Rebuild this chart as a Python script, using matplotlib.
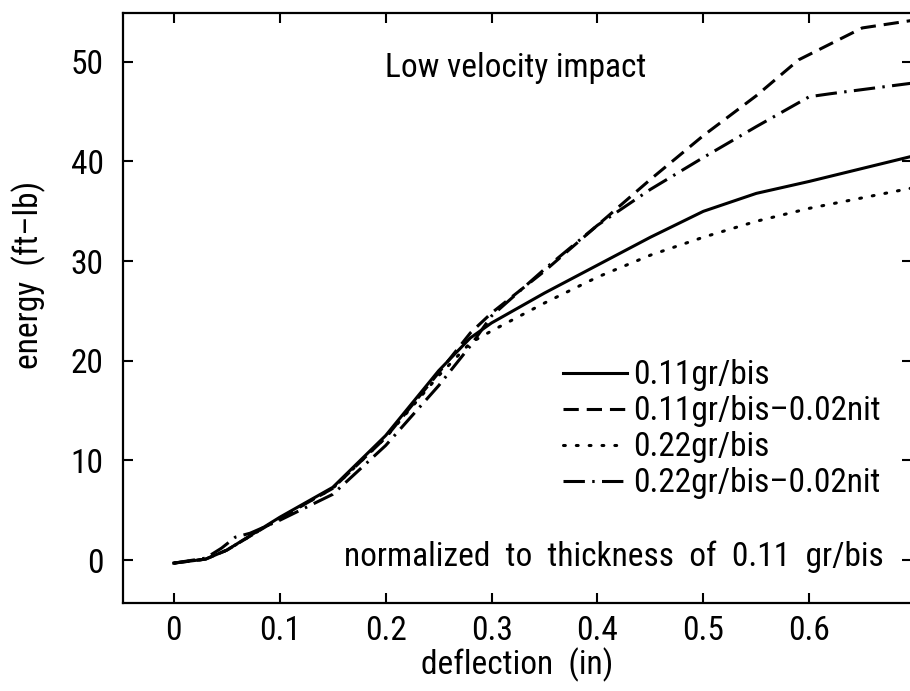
import numpy as np
import matplotlib.pyplot as plt

# data (deflection in, energy ft-lb)
x_solid = [0, 0.03, 0.05, 0.1, 0.15, 0.2, 0.25, 0.28, 0.3, 0.35, 0.4, 0.45, 0.5, 0.55, 0.6, 0.7]
y_solid = [-0.3, 0.1, 1.0, 4.3, 7.3, 12.5, 19.0, 22.3, 23.8, 26.8, 29.6, 32.4, 35.0, 36.8, 38.0, 40.6]

x_dash = [0, 0.03, 0.05, 0.1, 0.15, 0.2, 0.25, 0.28, 0.3, 0.35, 0.4, 0.45, 0.5, 0.55, 0.59, 0.65, 0.7]
y_dash = [-0.3, 0.1, 1.0, 4.2, 7.2, 12.3, 18.8, 22.8, 24.8, 29.0, 33.6, 38.2, 42.6, 46.6, 50.2, 53.4, 54.2]

x_dot = [0, 0.03, 0.05, 0.1, 0.15, 0.2, 0.25, 0.28, 0.3, 0.35, 0.4, 0.45, 0.5, 0.55, 0.6, 0.7]
y_dot = [-0.3, 0.1, 1.0, 4.2, 7.2, 12.3, 18.5, 21.8, 23.0, 25.8, 28.4, 30.6, 32.4, 34.0, 35.3, 37.4]

x_dd = [0, 0.03, 0.045, 0.058, 0.072, 0.085, 0.1, 0.15, 0.2, 0.25, 0.28, 0.3, 0.35, 0.4, 0.45, 0.5, 0.55, 0.6, 0.62, 0.7]
y_dd = [-0.3, 0.2, 1.2, 2.3, 2.7, 3.3, 4.0, 6.6, 11.5, 17.5, 21.5, 24.5, 29.2, 33.6, 37.2, 40.4, 43.5, 46.5, 46.8, 47.9]

labels = ['0.11gr/bis', '0.11gr/bis\u20130.02nit', '0.22gr/bis', '0.22gr/bis\u20130.02nit']
xticks = [0, 0.1, 0.2, 0.3, 0.4, 0.5, 0.6]
xticklabels = ['0', '0.1', '0.2', '0.3', '0.4', '0.5', '0.6']
yticks = [0, 10, 20, 30, 40, 50]

plt.rcParams['font.family'] = ['Roboto Condensed', 'DejaVu Sans']

fig = plt.figure(figsize=(9.10, 6.91), dpi=100)
ax = fig.add_axes([0.1352, 0.1274, 0.8670, 0.8538])

lw = 2.2
ax.plot(x_solid, y_solid, color='black', lw=lw, label=labels[0])
ax.plot(x_dash, y_dash, color='black', lw=lw, dashes=(5, 2.6), label=labels[1])
ax.plot(x_dot, y_dot, color='black', lw=lw, dashes=(0.6, 3.6), dash_capstyle='round', label=labels[2])
ax.plot(x_dd, y_dd, color='black', lw=lw, dashes=(7, 2.4, 0.8, 2.4), label=labels[3])

ax.set_xlim(-0.048, 0.697)
ax.set_ylim(-4.3, 54.9)
ax.set_xticks(xticks)
ax.set_xticklabels(xticklabels)
ax.set_yticks(yticks)

fs = 24
ax.tick_params(direction='in', length=7, width=1.5, top=True, right=True,
               labelsize=fs)
ax.tick_params(axis='x', pad=9)
ax.tick_params(axis='y', pad=14)
for s in ax.spines.values():
    s.set_linewidth(1.6)

ax.set_xlabel('deflection  (in)', fontsize=fs, labelpad=0)
ax.set_ylabel('energy  (ft\u2013lb)', fontsize=fs)
ax.yaxis.set_label_coords(-0.098, 0.556)

ax.text(0.323, 49.4, 'Low velocity impact', fontsize=fs, ha='center', va='center')
ax.text(0.670, 0.3, 'normalized  to  thickness  of  0.11  gr/bis', fontsize=fs,
        ha='right', va='center')

ax.legend(loc='upper left', bbox_to_anchor=(0.558, 0.413), frameon=False,
          fontsize=fs, handlelength=1.9, handletextpad=0.2, labelspacing=0.12,
          borderaxespad=0, borderpad=0)

fig.savefig('out.png', dpi=100)
